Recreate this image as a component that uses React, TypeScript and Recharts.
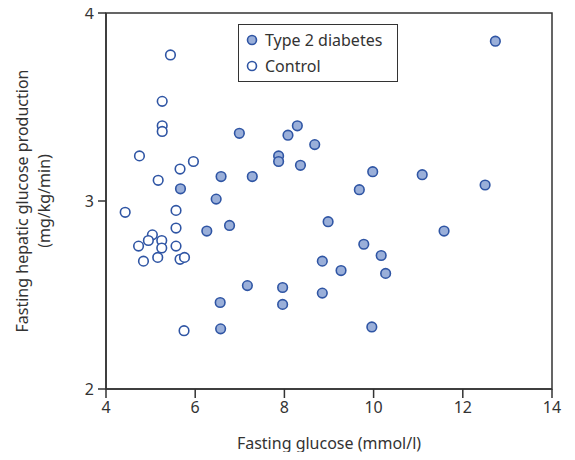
import React from 'react';
import {
  ScatterChart,
  Scatter,
  XAxis,
  YAxis,
  Legend,
  ReferenceArea,
} from 'recharts';

// Fasting glucose (mmol/l) vs hepatic glucose production (mg/kg/min)
const diabetesGlucose = [
  12.73, 8.29, 8.08, 6.99, 8.68, 7.87, 7.87, 8.36, 6.58, 7.28, 9.98, 11.09, 9.68, 12.5, 5.67, 6.47,
  8.98, 6.77, 6.26, 11.58, 9.78, 10.17, 8.85, 9.27, 10.27, 7.17, 7.96, 6.56, 7.96, 8.85, 6.57, 9.96,
];
const diabetesHgp = [
  3.85, 3.4, 3.35, 3.36, 3.3, 3.24, 3.21, 3.19, 3.13, 3.13, 3.156, 3.14, 3.06, 3.085, 3.065, 3.01,
  2.89, 2.87, 2.84, 2.84, 2.77, 2.71, 2.68, 2.63, 2.615, 2.55, 2.54, 2.46, 2.45, 2.51, 2.32, 2.33,
];

const controlGlucose = [
  5.445, 5.26, 5.26, 5.26, 4.75, 5.96, 5.66, 5.17, 4.43, 5.57, 5.57, 5.04, 4.95, 5.25, 4.73, 5.25,
  5.57, 4.84, 5.16, 5.66, 5.76, 5.75,
];
const controlHgp = [
  3.777, 3.53, 3.4, 3.37, 3.24, 3.21, 3.17, 3.11, 2.94, 2.95, 2.856, 2.82, 2.79, 2.79, 2.76, 2.75,
  2.76, 2.68, 2.7, 2.69, 2.7, 2.31,
];

const xTicks = [4, 6, 8, 10, 12, 14];
const yTicks = [2, 3, 4];

const diabetesData = diabetesGlucose.map((x, i) => ({ x, y: diabetesHgp[i] }));
const controlData = controlGlucose.map((x, i) => ({ x, y: controlHgp[i] }));

const FONT = '"Noto Sans", "Open Sans", sans-serif';
const INK = '#333333';
const MARK = '#2f55a4';
const FILL = '#9aafd9';

const dot = (fill: string) => (props: any) => (
  <circle cx={props.cx} cy={props.cy} r={4.8} fill={fill} stroke={MARK} strokeWidth={1.6} />
);

function LegendBox() {
  const row = (fill: string, text: string) => (
    <div style={{ display: 'flex', alignItems: 'center', height: 26 }}>
      <svg width={16} height={14}>
        <circle cx={6} cy={7} r={4.5} fill={fill} stroke={MARK} strokeWidth={1.6} />
      </svg>
      <span style={{ marginLeft: 3 }}>{text}</span>
    </div>
  );
  return (
    <div
      style={{
        border: `1.5px solid ${INK}`,
        padding: '2px 8px 2px 7px',
        width: 143,
        fontFamily: FONT,
        fontSize: 16,
        color: INK,
        background: '#fff',
        lineHeight: '26px',
      }}
    >
      {row(FILL, 'Type 2 diabetes')}
      {row('#fff', 'Control')}
    </div>
  );
}

function YLabel(props: any) {
  const { viewBox } = props;
  const cy = viewBox.y + viewBox.height / 2;
  return (
    <g fontFamily={FONT} fontSize={16} fill={INK}>
      <text x={22} y={cy} transform={`rotate(-90 22 ${cy})`} textAnchor="middle" dominantBaseline="central">
        Fasting hepatic glucose production
      </text>
      <text x={44} y={cy} transform={`rotate(-90 44 ${cy})`} textAnchor="middle" dominantBaseline="central">
        (mg/kg/min)
      </text>
    </g>
  );
}

export default function App() {
  const tick = { fill: INK, fontSize: 16, fontFamily: FONT };
  return (
    <div style={{ margin: -8 }}>
      <ScatterChart width={575} height={460} margin={{ top: 13, right: 23, left: 8, bottom: 2 }}>
        <XAxis
          type="number"
          dataKey="x"
          domain={[4, 14]}
          ticks={xTicks}
          height={69}
          tick={tick}
          tickSize={9}
          tickMargin={4}
          axisLine={{ stroke: INK, strokeWidth: 1.5 }}
          tickLine={{ stroke: INK, strokeWidth: 1.5 }}
          label={{
            value: 'Fasting glucose (mmol/l)',
            position: 'insideBottom',
            offset: 9,
            fill: INK,
            fontSize: 16,
            fontFamily: FONT,
          }}
        />
        <YAxis
          type="number"
          dataKey="y"
          domain={[2, 4]}
          ticks={yTicks}
          width={98}
          tick={tick}
          tickSize={8}
          tickMargin={4}
          axisLine={{ stroke: INK, strokeWidth: 1.5 }}
          tickLine={{ stroke: INK, strokeWidth: 1.5 }}
          label={{ content: YLabel }}
        />
        <ReferenceArea x1={4} x2={14} y1={2} y2={4} fill="none" stroke={INK} strokeWidth={1.5} />
        <Legend
          layout="vertical"
          verticalAlign="middle"
          align="center"
          content={() => <LegendBox />}
          wrapperStyle={{ left: 238, top: 24, width: 'auto' }}
        />
        <Scatter
          name="Type 2 diabetes"
          data={diabetesData}
          shape={dot(FILL)}
          isAnimationActive={false}
        />
        <Scatter
          name="Control"
          data={controlData}
          shape={dot('#ffffff')}
          isAnimationActive={false}
        />
      </ScatterChart>
    </div>
  );
}
